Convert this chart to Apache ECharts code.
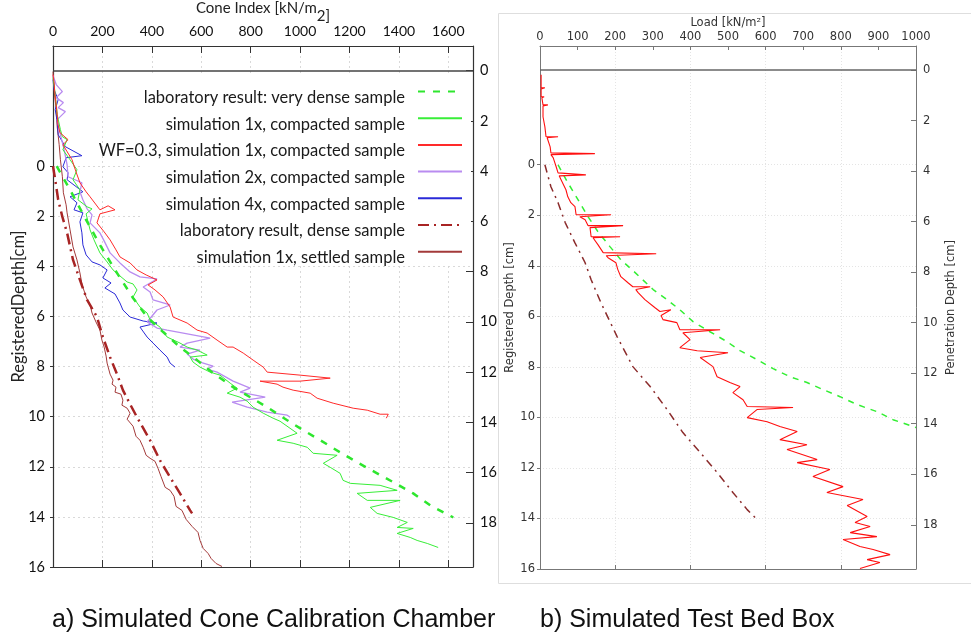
<!DOCTYPE html>
<html>
<head>
<meta charset="utf-8">
<script src="https://cdn.jsdelivr.net/npm/echarts@6/dist/echarts.min.js"></script>
<style>
  html, body { margin: 0; padding: 0; background: #fff; }
  #chart { width: 971px; height: 639px; }
</style>
</head>
<body>
<div id="chart"></div>
<script>
// tick values of the depth axes
var depthTicks = [0, 2, 4, 6, 8, 10, 12, 14, 16]
var penTicks = [0, 2, 4, 6, 8, 10, 12, 14, 16, 18]

var legendNames = [
  'laboratory result: very dense sample',
  'simulation 1x, compacted sample',
  'WF=0.3, simulation 1x, compacted sample',
  'simulation 2x, compacted sample',
  'simulation 4x, compacted sample',
  'laboratory result, dense sample',
  'simulation 1x, settled sample'
]

// a) cone calibration chamber, points are [cone index, registered depth]
var veryDense = [[15, 0], [69, 0.94], [134, 2.14], [190, 3.14], [251, 4.14], [324, 5.26], [381, 6.02], [446, 6.62],
  [514, 7.22], [583, 7.74], [648, 8.26], [729, 8.82], [867, 9.62], [948, 10.14], [1013, 10.54], [1082, 10.94],
  [1162, 11.42], [1231, 11.82], [1312, 12.26], [1393, 12.7], [1458, 13.06], [1527, 13.54], [1620, 14.02]]

var sim1x = [[0, -3.54], [9, -2.86], [17, -2.06], [30, -1.46], [38, -1.18], [57, -1.06], [40, -0.66], [69, -0.26],
  [97, 0.14], [81, 0.54], [109, 0.94], [101, 1.34], [138, 1.62], [158, 1.7], [134, 1.9], [150, 2.54], [166, 2.94],
  [190, 3.46], [219, 3.82], [243, 4.14], [271, 4.38], [300, 4.62], [324, 4.7], [340, 4.94], [324, 5.22], [352, 5.62],
  [381, 5.86], [393, 6.14], [433, 6.42], [462, 6.82], [514, 7.06], [543, 7.22], [583, 7.34], [624, 7.54], [555, 7.62],
  [567, 7.82], [595, 8.02], [636, 8.22], [676, 8.34], [717, 8.66], [745, 8.86], [705, 9.06], [757, 9.22], [786, 9.38],
  [810, 9.62], [851, 9.86], [891, 10.06], [919, 10.18], [988, 10.66], [907, 10.94], [972, 11.06], [1029, 11.22],
  [1053, 11.46], [1150, 11.54], [1094, 11.86], [1122, 12.02], [1162, 12.26], [1174, 12.54], [1203, 12.66],
  [1324, 12.74], [1393, 12.94], [1231, 13.06], [1272, 13.34], [1405, 13.34], [1284, 13.62], [1312, 13.86],
  [1377, 14.02], [1434, 14.22], [1393, 14.42], [1458, 14.46], [1393, 14.66], [1446, 14.82], [1474, 14.94],
  [1515, 15.06], [1559, 15.22]]

var wf03 = [[0, -3.66], [4, -3.38], [8, -2.86], [16, -2.18], [20, -1.66], [28, -1.34], [61, -1.06], [40, -0.86],
  [77, -0.26], [93, 0.22], [109, 0.66], [134, 1.02], [150, 1.22], [190, 1.74], [223, 1.58], [251, 1.74], [190, 1.9],
  [178, 2.26], [207, 2.62], [231, 2.94], [255, 3.34], [271, 3.62], [312, 3.86], [340, 4.14], [377, 4.34], [421, 4.54],
  [385, 4.74], [413, 4.94], [446, 5.22], [474, 5.62], [486, 6.02], [543, 6.26], [583, 6.54], [624, 6.66], [664, 6.94],
  [705, 7.22], [729, 7.22], [770, 7.46], [810, 7.74], [851, 8.02], [867, 8.22], [1000, 8.34], [1122, 8.46],
  [1000, 8.58], [838, 8.58], [907, 8.7], [931, 8.82], [972, 8.94], [1041, 9.06], [1069, 9.26], [1134, 9.46],
  [1215, 9.66], [1272, 9.74], [1324, 9.9], [1357, 9.9], [1349, 10.06]]

var sim2x = [[0, -3.62], [13, -3.26], [38, -2.98], [13, -2.74], [42, -2.54], [21, -2.34], [50, -2.18], [17, -1.86],
  [30, -1.26], [45, -0.66], [57, -0.06], [61, 0.42], [117, 0.66], [109, 1.02], [121, 1.34], [138, 1.7], [158, 1.94],
  [150, 2.26], [190, 2.66], [207, 2.98], [231, 3.46], [271, 3.86], [312, 4.22], [352, 4.42], [421, 4.5], [365, 4.82],
  [393, 5.02], [405, 5.34], [474, 5.54], [421, 5.74], [381, 6.22], [421, 6.46], [462, 6.54], [636, 6.86], [543, 7.06],
  [514, 7.22], [595, 7.34], [543, 7.5], [567, 7.7], [595, 7.82], [648, 7.98], [624, 8.1], [664, 8.22], [729, 8.58],
  [798, 8.86], [757, 9.02], [859, 9.22], [725, 9.42], [786, 9.62], [867, 9.82], [948, 9.94], [960, 10.02]]

var sim4x = [[0, -3.46], [4, -3.06], [21, -2.66], [9, -2.26], [17, -1.78], [21, -1.26], [50, -0.78], [117, -0.42],
  [53, -0.34], [40, 0.02], [61, 0.26], [57, 0.54], [89, 0.78], [121, 1.02], [69, 1.22], [97, 1.46], [85, 1.74],
  [121, 1.86], [109, 2.22], [117, 2.66], [121, 3.14], [134, 3.54], [158, 3.82], [190, 3.94], [219, 4.14], [202, 4.46],
  [235, 4.66], [210, 4.86], [251, 5.1], [271, 5.46], [283, 5.74], [312, 6.02], [365, 6.18], [421, 6.26], [352, 6.42],
  [381, 6.82], [405, 7.06], [433, 7.34], [462, 7.62], [474, 7.86], [494, 8.02]]

var labDense = [[0, 0], [9, 0.54], [21, 1.34], [38, 2.02], [57, 2.66], [81, 3.74], [109, 4.54], [138, 5.34],
  [178, 6.02], [202, 6.82], [231, 7.62], [259, 8.3], [283, 8.94], [312, 9.5], [340, 10.02], [393, 10.94],
  [433, 11.74], [474, 12.42], [514, 13.06], [555, 13.74], [563, 13.86]]

var settled = [[0, -3.78], [4, -3.06], [13, -2.26], [17, -1.58], [25, -0.86], [30, -0.26], [38, 0.42], [42, 1.06],
  [53, 1.54], [57, 1.86], [69, 2.54], [81, 3.22], [97, 3.74], [109, 4.26], [118, 4.74], [134, 5.22], [150, 5.54],
  [158, 5.86], [174, 6.22], [190, 6.54], [198, 6.94], [207, 7.22], [215, 7.58], [219, 7.86], [231, 8.3], [243, 8.54],
  [239, 8.7], [255, 8.82], [251, 9.02], [275, 9.1], [283, 9.34], [279, 9.54], [300, 9.66], [312, 9.86], [300, 10.1],
  [324, 10.38], [336, 10.78], [352, 10.94], [365, 11.22], [377, 11.54], [393, 11.66], [413, 11.78], [425, 12.06],
  [437, 12.38], [454, 12.82], [474, 12.94], [490, 13.18], [498, 13.58], [522, 13.74], [539, 14.1], [563, 14.38],
  [587, 14.62], [595, 14.94], [608, 15.26], [628, 15.46], [640, 15.66], [660, 15.86], [684, 15.98]]

// b) test bed box, points are [load, registered depth]
var bedLoad = [[3, -3.56], [3, -3.05], [13, -3.05], [3, -3.0], [3, -2.69], [11, -2.69], [5, -2.65], [8, -2.37],
  [21, -2.37], [8, -2.33], [8, -1.9], [13, -1.5], [16, -1.11], [48, -1.11], [19, -1.07], [27, -0.71], [29, -0.47],
  [146, -0.44], [29, -0.4], [35, -0.28], [43, 0.08], [48, 0.32], [122, 0.4], [51, 0.44], [56, 0.59], [69, 0.99],
  [74, 1.27], [82, 1.5], [93, 1.66], [96, 1.98], [189, 1.98], [106, 2.06], [120, 2.18], [128, 2.41], [221, 2.41],
  [133, 2.49], [136, 2.85], [213, 2.85], [141, 2.89], [154, 3.16], [168, 3.48], [309, 3.52], [176, 3.6], [181, 3.68],
  [202, 3.88], [207, 4.15], [215, 4.43], [234, 4.67], [247, 4.83], [293, 4.83], [255, 4.94], [261, 5.06], [279, 5.34],
  [306, 5.66], [319, 5.81], [348, 5.74], [322, 5.97], [327, 6.13], [364, 6.25], [372, 6.53], [479, 6.53], [380, 6.65],
  [399, 6.92], [372, 7.24], [418, 7.36], [500, 7.44], [426, 7.63], [460, 7.99], [471, 8.39], [505, 8.62], [532, 8.78],
  [513, 9.02], [540, 9.3], [551, 9.57], [673, 9.61], [577, 9.69], [551, 10.01], [604, 10.17], [638, 10.36],
  [684, 10.56], [638, 10.88], [710, 11.08], [657, 11.27], [737, 11.67], [684, 11.79], [771, 12.06], [726, 12.34],
  [806, 12.74], [763, 12.97], [859, 13.25], [817, 13.49], [870, 13.92], [838, 14.16], [878, 14.32], [825, 14.56],
  [896, 14.72], [806, 14.83], [851, 15.11], [886, 15.23], [931, 15.43], [870, 15.63], [904, 15.74], [851, 15.98]]

var bedVeryDense = [[48, 0], [74, 0.71], [101, 1.38], [128, 2.06], [154, 2.65], [186, 3.24], [215, 3.76], [253, 4.27],
  [301, 4.94], [338, 5.34], [372, 5.74], [407, 6.21], [452, 6.61], [497, 7.0], [532, 7.36], [577, 7.71], [620, 8.07],
  [665, 8.39], [710, 8.62], [753, 8.9], [798, 9.18], [843, 9.49], [896, 9.77], [939, 10.09], [1000, 10.4]]

var bedDense = [[13, 0], [29, 0.87], [48, 1.5], [67, 2.29], [93, 3.09], [120, 3.88], [136, 4.55], [162, 5.46],
  [205, 6.8], [247, 7.99], [293, 8.78], [338, 9.69], [380, 10.6], [426, 11.39], [471, 12.18], [513, 12.97],
  [551, 13.65], [572, 13.96]]

var chart = echarts.init(document.getElementById('chart'))

var fontA = 'Lato'
var fontB = 'DejaVu Sans'
var plain = function (v) { return String(v) }

function lineSeries (name, data, color, width, type, xi, yi) {
  return {
    name: name,
    type: 'line',
    xAxisIndex: xi,
    yAxisIndex: yi,
    data: data,
    symbol: 'none',
    showSymbol: false,
    silent: true,
    lineStyle: { color: color, width: width, type: type },
    itemStyle: { color: color }
  }
}

function zeroLine (xi, yi, color) {
  return {
    type: 'line',
    xAxisIndex: xi,
    yAxisIndex: yi,
    data: [],
    symbol: 'none',
    markLine: {
      silent: true,
      symbol: ['none', 'none'],
      label: { show: false },
      lineStyle: { color: color, width: 1.5, type: 'solid' },
      data: [{ yAxis: 0 }]
    }
  }
}

// one key entry per legend so that the texts line up on the right
var legends = legendNames.map(function (n, i) {
  return {
    data: [n],
    right: 503,
    top: 72 + i * 26.7,
    align: 'right',
    itemWidth: 44,
    itemHeight: 14,
    selectedMode: false,
    itemStyle: { opacity: 0 },
    formatter: '{t|{name}}',
    textStyle: {
      rich: {
        t: { fontFamily: fontA, fontSize: 16.5, color: '#1a1a1a', lineHeight: 16, padding: [12, 8, 0, 0] }
      }
    }
  }
})

chart.setOption({
  animation: false,
  backgroundColor: '#fff',
  grid: [
    { left: 53, right: 498, top: 46, bottom: 72, outerBoundsMode: 'none' },
    { left: 540, right: 55, top: 46, bottom: 70, outerBoundsMode: 'none' }
  ],
  legend: legends,
  xAxis: [
    {
      gridIndex: 0, type: 'value', position: 'top', min: 0, max: 1700, interval: 200,
      name: '{m|Cone Index [kN/m}{s|2]}', nameLocation: 'middle', nameGap: 27, nameMoveOverlap: false,
      nameTextStyle: {
        rich: {
          m: { fontFamily: fontA, fontSize: 15, color: '#222', lineHeight: 18, verticalAlign: 'top' },
          s: { fontFamily: fontA, fontSize: 15, color: '#222', lineHeight: 18, verticalAlign: 'top', padding: [8, 0, 0, 0] }
        }
      },
      axisLine: { onZero: false, lineStyle: { color: '#333', width: 1.2 } },
      axisTick: { inside: true, length: 7, lineStyle: { color: '#333' } },
      axisLabel: { fontFamily: fontA, fontSize: 14, color: '#111', margin: 8, showMaxLabel: false, formatter: plain },
      splitLine: { show: true, lineStyle: { color: '#cfcfcf', type: [2, 3], width: 0.8 } }
    },
    {
      gridIndex: 0, type: 'value', position: 'bottom', min: 0, max: 1700, interval: 200,
      axisLine: { onZero: false, lineStyle: { color: '#333', width: 1.2 } },
      axisTick: { inside: true, length: 7, lineStyle: { color: '#333' } },
      axisLabel: { show: false },
      splitLine: { show: false }
    },
    {
      gridIndex: 1, type: 'value', position: 'top', min: 0, max: 1000, interval: 100,
      name: 'Load [kN/m²]', nameLocation: 'middle', nameGap: 16.5, nameMoveOverlap: false,
      nameTextStyle: { fontFamily: fontB, fontSize: 11.5, color: '#333' },
      axisLine: { onZero: false, lineStyle: { color: '#777', width: 1 } },
      axisTick: { inside: true, length: 4, lineStyle: { color: '#777' } },
      axisLabel: { fontFamily: fontB, fontSize: 11.5, color: '#333', margin: 3, formatter: plain },
      splitLine: { show: false }
    },
    {
      gridIndex: 1, type: 'value', position: 'bottom', min: 0, max: 1000, interval: 200,
      axisLine: { onZero: false, lineStyle: { color: '#777', width: 1 } },
      axisTick: { inside: true, length: 4, lineStyle: { color: '#777' } },
      axisLabel: { show: false },
      splitLine: { show: true, lineStyle: { color: '#e4e4e4', type: [1, 2], width: 1 } }
    }
  ],
  yAxis: [
    {
      gridIndex: 0, type: 'value', position: 'left', inverse: true, min: -4.8, max: 16,
      name: 'RegisteredDepth[cm]', nameLocation: 'middle', nameRotate: 90, nameGap: 26, nameMoveOverlap: false,
      nameTextStyle: { fontFamily: fontA, fontSize: 16.5, color: '#222' },
      axisLine: { onZero: false, lineStyle: { color: '#333', width: 1.2 } },
      axisTick: { customValues: depthTicks, length: 3, lineStyle: { color: '#333' } },
      axisLabel: { customValues: depthTicks, fontFamily: fontA, fontSize: 14.5, color: '#111', margin: 8 },
      splitLine: { show: true, lineStyle: { color: '#cfcfcf', type: [2, 3], width: 0.8 } }
    },
    {
      gridIndex: 0, type: 'value', position: 'right', inverse: true, min: -0.98, max: 19.76,
      axisLine: { onZero: false, lineStyle: { color: '#333', width: 1.2 } },
      axisTick: { customValues: penTicks, inside: true, length: 7, lineStyle: { color: '#333' } },
      axisLabel: { customValues: penTicks, fontFamily: fontA, fontSize: 14.5, color: '#111', margin: 7 },
      splitLine: { show: false }
    },
    {
      gridIndex: 1, type: 'value', position: 'left', inverse: true, min: -4.7, max: 16,
      name: 'Registered Depth [cm]', nameLocation: 'middle', nameRotate: 90, nameGap: 23.5, nameMoveOverlap: false,
      nameTextStyle: { fontFamily: fontB, fontSize: 11.5, color: '#333' },
      axisLine: { onZero: false, lineStyle: { color: '#777', width: 1 } },
      axisTick: { customValues: depthTicks, length: 3, lineStyle: { color: '#777' } },
      axisLabel: { customValues: depthTicks, fontFamily: fontB, fontSize: 11.5, color: '#333', margin: 5 },
      splitLine: { show: true, lineStyle: { color: '#e4e4e4', type: [1, 2], width: 1 } }
    },
    {
      gridIndex: 1, type: 'value', position: 'right', inverse: true, min: -0.95, max: 19.75,
      name: 'Penetration Depth [cm]', nameLocation: 'middle', nameRotate: 90, nameGap: 29.5, nameMoveOverlap: false,
      nameTextStyle: { fontFamily: fontB, fontSize: 11.5, color: '#333' },
      axisLine: { onZero: false, lineStyle: { color: '#777', width: 1 } },
      axisTick: { customValues: penTicks, inside: true, length: 5, lineStyle: { color: '#777' } },
      axisLabel: { customValues: penTicks, fontFamily: fontB, fontSize: 11.5, color: '#333', margin: 7 },
      splitLine: { show: false }
    }
  ],
  graphic: [
    // white key box over the grid
    { type: 'rect', z: 1, silent: true, shape: { x: 140, y: 73, width: 331, height: 193 }, style: { fill: '#fff' } },
    // frame round panel b
    { type: 'rect', silent: true, shape: { x: 498.5, y: 13.5, width: 490, height: 570 }, style: { fill: 'none', stroke: '#dedede', lineWidth: 1 } },
    { type: 'text', silent: true, x: 52, y: 620, style: { text: 'a) Simulated Cone Calibration Chamber', font: '25px "Liberation Sans"', fill: '#111', verticalAlign: 'middle' } },
    { type: 'text', silent: true, x: 540, y: 620, style: { text: 'b) Simulated Test Bed Box', font: '25px "Liberation Sans"', fill: '#111', verticalAlign: 'middle' } }
  ],
  series: [
    zeroLine(0, 1, '#444'),
    lineSeries(legendNames[6], settled, '#a33a3a', 1, 'solid', 0, 0),
    lineSeries(legendNames[5], labDense, '#a82424', 2.5, [11, 5, 2, 5], 0, 0),
    lineSeries(legendNames[4], sim4x, '#2a2ad8', 1, 'solid', 0, 0),
    lineSeries(legendNames[3], sim2x, '#b98cf0', 1.3, 'solid', 0, 0),
    lineSeries(legendNames[1], sim1x, '#38ee38', 1, 'solid', 0, 0),
    lineSeries(legendNames[2], wf03, '#ff2a2a', 1, 'solid', 0, 0),
    lineSeries(legendNames[0], veryDense, '#2ee62e', 2.5, [7, 8], 0, 0),
    zeroLine(2, 3, '#666'),
    lineSeries('b: dense', bedDense, '#8b2b2b', 1.5, [8, 5, 2, 5], 2, 2),
    lineSeries('b: very dense', bedVeryDense, '#33ee33', 1.5, [6, 6], 2, 2),
    lineSeries('b: load', bedLoad, '#ff1010', 1.1, 'solid', 2, 2)
  ]
})
</script>
</body>
</html>
